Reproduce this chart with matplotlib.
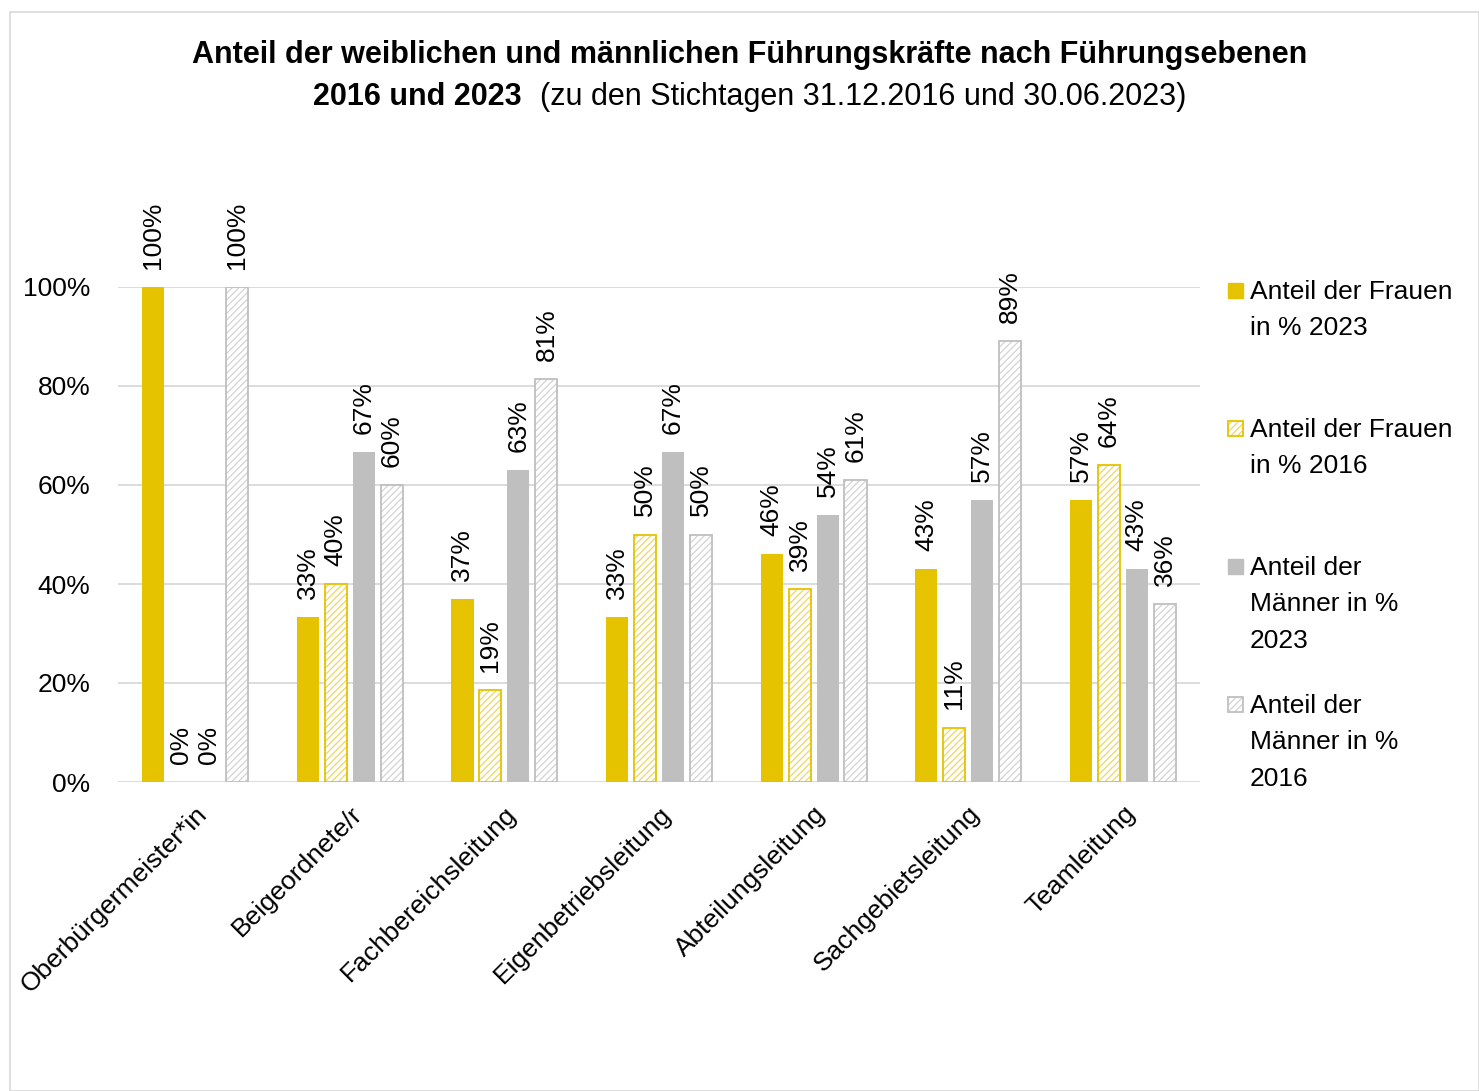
import matplotlib
matplotlib.use("Agg")
import matplotlib.pyplot as plt
import numpy as np
from matplotlib import font_manager
from matplotlib.patches import Rectangle

# pick a narrow font if we have one
fontName = "Liberation Sans"
try:
    font_manager.findfont("Liberation Sans Narrow", fallback_to_default=False)
    fontName = "Liberation Sans Narrow"
except Exception:
    pass
plt.rcParams['font.family'] = [fontName, 'DejaVu Sans']

######DATA
categories = ["Oberbürgermeister*in", "Beigeordnete/r", "Fachbereichsleitung",
              "Eigenbetriebsleitung", "Abteilungsleitung", "Sachgebietsleitung", "Teamleitung"]
frauen2023 = [100, 33.3, 37, 33.3, 46, 43, 57]
frauen2016 = [0, 40, 18.6, 50, 39, 11, 64]
maenner2023 = [0, 66.7, 63, 66.7, 54, 57, 43]
maenner2016 = [100, 60, 81.4, 50, 61, 89, 36]
seriesNames = ["Anteil der Frauen\nin % 2023", "Anteil der Frauen\nin % 2016",
               "Anteil der\nMänner in %\n2023", "Anteil der\nMänner in %\n2016"]
yTicks = [0, 20, 40, 60, 80, 100]

YELLOW = "#E5C300"
GREY = "#BFBFBF"
FS = 19

W, H = 1479, 1091
fig = plt.figure(figsize=(W/100, H/100), dpi=100)
fig.patches.append(Rectangle((10/W, 0), 1 - 10/W, 1 - 12/H, transform=fig.transFigure,
                             fill=False, edgecolor="#D9D9D9", linewidth=1.2))

ax = fig.add_axes([118/W, 1 - 782/H, (1200-118)/W, (782-287)/H])
x = np.arange(len(categories))
pitch = 0.181
barW = 0.143
offsets = [-1.5*pitch, -0.5*pitch, 0.5*pitch, 1.5*pitch]
plt.rcParams['hatch.linewidth'] = 0.9

allSeries = [frauen2023, frauen2016, maenner2023, maenner2016]
for k, vals in enumerate(allSeries):
    vals = np.array(vals)
    pos = x + offsets[k]
    if k == 0:
        ax.bar(pos, vals, barW, color=YELLOW, zorder=3)
    elif k == 2:
        ax.bar(pos, vals, barW, color=GREY, zorder=3)
    else:
        col = YELLOW if k == 1 else GREY
        hatchCol = "#EDD766" if k == 1 else "#D3D3D3"
        ax.bar(pos, vals, barW, facecolor="white", edgecolor=hatchCol, hatch="/////",
               linewidth=0, zorder=3)
        lw = [1.3 if v > 0 else 0 for v in vals]
        ax.bar(pos, vals, barW, fill=False, edgecolor=col, linewidth=lw, zorder=4)
    for p, v in zip(pos, vals):
        ax.annotate("%d%%" % round(v), (p, v), xytext=(0, 13), textcoords="offset points",
                    rotation=90, ha="center", va="bottom", fontsize=FS, annotation_clip=False)

ax.set_xlim(-0.5, len(categories) - 0.5)
ax.set_ylim(0, 100)
ax.set_yticks(yTicks)
ax.set_yticklabels(["%d%%" % t for t in yTicks], fontsize=FS)
ax.set_xticks(x)
ax.set_xticklabels(categories, rotation=45, ha="right", rotation_mode="anchor", fontsize=FS)
ax.tick_params(length=0, pad=20, axis="y")
ax.tick_params(length=0, pad=14, axis="x")
ax.grid(axis="y", color="#D9D9D9", linewidth=1.3, zorder=0)
ax.set_axisbelow(True)
for s in ax.spines.values():
    s.set_visible(False)

# legend drawn by hand
legY = [290, 428, 566, 704]
for k in range(4):
    yy = 1 - legY[k]/H
    if k == 0:
        fig.patches.append(Rectangle((1228/W, yy - 8/H), 15/W, 15/H, transform=fig.transFigure, color=YELLOW))
    elif k == 2:
        fig.patches.append(Rectangle((1228/W, yy - 8/H), 15/W, 15/H, transform=fig.transFigure, color=GREY))
    else:
        col = YELLOW if k == 1 else GREY
        hatchCol = "#EDD766" if k == 1 else "#D3D3D3"
        fig.patches.append(Rectangle((1228/W, yy - 8/H), 15/W, 15/H, transform=fig.transFigure,
                                     facecolor="white", edgecolor=hatchCol, hatch="/////", linewidth=0))
        fig.patches.append(Rectangle((1228/W, yy - 8/H), 15/W, 15/H, transform=fig.transFigure,
                                     fill=False, edgecolor=col, linewidth=1.3))
    fig.text(1250/W, yy + 10/H, seriesNames[k], fontsize=FS, va="top", ha="left", linespacing=1.65)

# title
fig.text(750/W, 1 - 55/H, "Anteil der weiblichen und männlichen Führungskräfte nach Führungsebenen",
         fontsize=22, fontweight="bold", ha="center", va="center")
t1 = fig.text(313/W, 1 - 97/H, "2016 und 2023", fontsize=22, fontweight="bold", ha="left", va="center")
fig.canvas.draw()
bb = t1.get_window_extent()
fig.text((bb.x1 + 18)/W, 1 - 97/H, "(zu den Stichtagen 31.12.2016 und 30.06.2023)",
         fontsize=22, ha="left", va="center")

fig.savefig("out.png", dpi=100)
